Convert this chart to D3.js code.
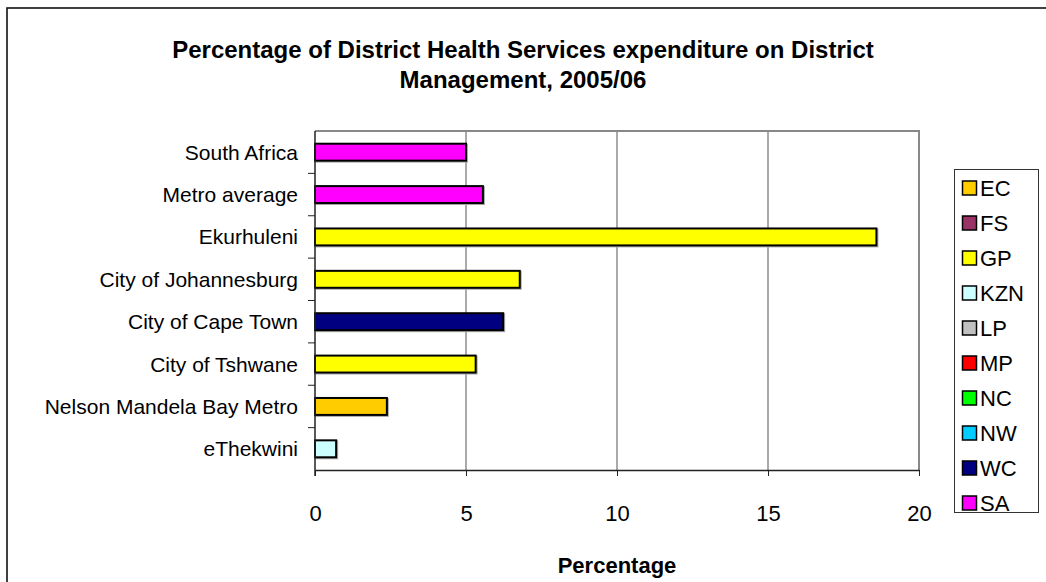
<!DOCTYPE html>
<html>
<head>
<meta charset="utf-8">
<script src="https://cdn.jsdelivr.net/npm/d3@7"></script>
<style>
  html, body { margin: 0; padding: 0; background: #fff; }
  svg { display: block; font-family: "Liberation Sans", Arial, sans-serif; }
</style>
</head>
<body>
<svg id="chart" width="1046" height="582"></svg>
<script>
// District names, top to bottom
const districts = [
  "South Africa",
  "Metro average",
  "Ekurhuleni",
  "City of Johannesburg",
  "City of Cape Town",
  "City of Tshwane",
  "Nelson Mandela Bay Metro",
  "eThekwini"
];
// Share of District Health Services spending on District Management (%)
const percentages = [5.0, 5.56, 18.59, 6.78, 6.23, 5.32, 2.38, 0.70];
// Province each district belongs to (SA = national figures)
const provinceOf = ["SA", "SA", "GP", "GP", "WC", "GP", "EC", "KZN"];

const provinces = ["EC", "FS", "GP", "KZN", "LP", "MP", "NC", "NW", "WC", "SA"];
const provinceColors = ["#FFCC00", "#993366", "#FFFF00", "#CCFFFF", "#C0C0C0",
                        "#FF0000", "#00FF00", "#00CCFF", "#000080", "#FF00FF"];
const xTicks = [0, 5, 10, 15, 20];

const titleLines = [
  "Percentage of District Health Services expenditure on District",
  "Management, 2005/06"
];
const xTitle = "Percentage";

const svg = d3.select("#chart");

// outer chart frame
svg.append("rect")
  .attr("x", 7).attr("y", 8)
  .attr("width", 1100).attr("height", 700)
  .attr("fill", "#fff")
  .attr("stroke", "#111").attr("stroke-width", 1.6);

const plot = { left: 315, right: 919, top: 131, bottom: 470 };

const x = d3.scaleLinear().domain([0, 20]).range([plot.left, plot.right]);
const y = d3.scaleBand().domain(districts).range([plot.top, plot.bottom]).paddingInner(0.6).paddingOuter(0.3);
const yBand = d3.scaleBand().domain(districts).range([plot.top, plot.bottom]);
const color = d3.scaleOrdinal().domain(provinces).range(provinceColors);

// title
svg.append("g").selectAll("text")
  .data(titleLines)
  .join("text")
  .attr("x", 523)
  .attr("y", (d, i) => 58 + i * 30)
  .attr("text-anchor", "middle")
  .attr("font-weight", "bold")
  .attr("font-size", 24)
  .text(d => d);

// vertical gridlines
svg.append("g")
  .selectAll("line")
  .data(xTicks.filter(t => t > 0 && t < 20))
  .join("line")
  .attr("x1", d => x(d)).attr("x2", d => x(d))
  .attr("y1", plot.top).attr("y2", plot.bottom)
  .attr("stroke", "#555").attr("stroke-width", 1);

// plot area outline (top and right)
svg.append("path")
  .attr("d", `M${plot.left},${plot.top}H${plot.right}V${plot.bottom}`)
  .attr("fill", "none")
  .attr("stroke", "#888").attr("stroke-width", 2);

// bar shadows, then bars
const bars = svg.append("g");
bars.selectAll("rect.shadow")
  .data(districts)
  .join("rect")
  .attr("class", "shadow")
  .attr("x", x(0) + 1)
  .attr("y", d => y(d) + 1)
  .attr("width", (d, i) => x(percentages[i]) - x(0))
  .attr("height", y.bandwidth())
  .attr("fill", "none")
  .attr("stroke", "#aaa")
  .attr("stroke-width", 2);
bars.selectAll("rect.bar")
  .data(districts)
  .join("rect")
  .attr("class", "bar")
  .attr("x", x(0))
  .attr("y", d => y(d))
  .attr("width", (d, i) => x(percentages[i]) - x(0))
  .attr("height", y.bandwidth())
  .attr("fill", (d, i) => color(provinceOf[i]))
  .attr("stroke", "#000")
  .attr("stroke-width", 2);

// x axis
const xAxis = svg.append("g")
  .attr("transform", `translate(0,${plot.bottom})`)
  .call(d3.axisBottom(x).tickValues(xTicks).tickSize(6).tickPadding(29).tickSizeOuter(0));
xAxis.select(".domain").attr("stroke", "#222").attr("stroke-width", 1.5);
xAxis.selectAll(".tick line").attr("stroke", "#222");
xAxis.selectAll(".tick text")
  .attr("font-size", 22)
  .attr("fill", "#000")
  .attr("font-family", "Liberation Sans, Arial, sans-serif");

// y axis: ticks sit on the band boundaries
const yAxis = svg.append("g")
  .attr("transform", `translate(${plot.left},0)`);
yAxis.append("line")
  .attr("x1", 0).attr("x2", 0)
  .attr("y1", plot.top).attr("y2", plot.bottom + 6)
  .attr("stroke", "#222").attr("stroke-width", 1.5);
yAxis.selectAll("line.tick")
  .data(districts.slice(1))
  .join("line")
  .attr("class", "tick")
  .attr("x1", -7).attr("x2", 0)
  .attr("y1", d => yBand(d)).attr("y2", d => yBand(d))
  .attr("stroke", "#222");
yAxis.selectAll("text")
  .data(districts)
  .join("text")
  .attr("x", -17)
  .attr("y", d => yBand(d) + yBand.bandwidth() / 2)
  .attr("text-anchor", "end")
  .attr("dominant-baseline", "central")
  .attr("font-size", 21)
  .text(d => d);

// x axis title
svg.append("text")
  .attr("x", x(10))
  .attr("y", 573)
  .attr("text-anchor", "middle")
  .attr("font-weight", "bold")
  .attr("font-size", 22)
  .text(xTitle);

// legend
const legend = svg.append("g");
legend.append("rect")
  .attr("x", 954.5).attr("y", 169.5)
  .attr("width", 84).attr("height", 343)
  .attr("fill", "#fff")
  .attr("stroke", "#333").attr("stroke-width", 1);
const item = legend.selectAll("g.item")
  .data(provinces)
  .join("g")
  .attr("class", "item")
  .attr("transform", (d, i) => `translate(962,${188 + i * 35})`);
item.append("rect")
  .attr("x", 0.5).attr("y", -7)
  .attr("width", 14).attr("height", 14)
  .attr("fill", d => color(d))
  .attr("stroke", "#000").attr("stroke-width", 1.5);
item.append("text")
  .attr("x", 18)
  .attr("y", 0)
  .attr("dominant-baseline", "central")
  .attr("font-size", 22)
  .text(d => d);
</script>
</body>
</html>
